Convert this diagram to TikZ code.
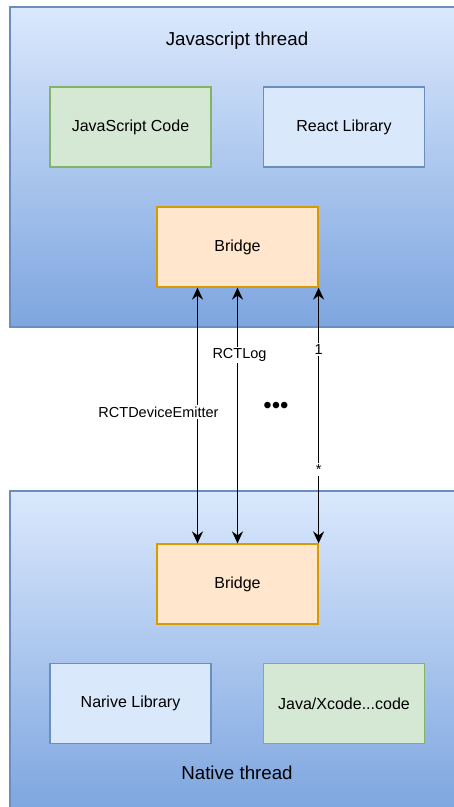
\documentclass[tikz,border=0pt]{standalone}
\usepackage{fontspec}
\setmainfont{Liberation Sans}
\usetikzlibrary{arrows.meta}
\definecolor{laneTop}{HTML}{DAE8FC}
\definecolor{laneBot}{HTML}{7EA6E0}
\definecolor{laneLine}{HTML}{6C8EBF}
\definecolor{blueFill}{HTML}{DAE8FC}
\definecolor{greenFill}{HTML}{D5E8D4}
\definecolor{greenLine}{HTML}{82B366}
\definecolor{orangeFill}{HTML}{FFE6CC}
\definecolor{orangeLine}{HTML}{D79B00}
\tikzset{
  box/.style={minimum width=161pt, minimum height=80pt, inner sep=0pt, line width=1.2pt,
    font=\fontsize{16}{19}\selectfont},
  bluebox/.style={box, draw=laneLine, fill=blueFill},
  greenbox/.style={box, draw=greenLine, fill=greenFill},
  bridgebox/.style={box, draw=orangeLine, fill=orangeFill},
  title/.style={font=\fontsize{18.7}{22}\selectfont},
  chan/.style={draw=black, line width=1.5pt, >={Stealth[length=12pt,width=11pt,inset=4pt]}, <->},
  tag/.style={fill=white, inner sep=1.5pt, font=\fontsize{14.5}{17}\selectfont}
}
% vertical gradient band from laneTop to laneBot, built from thin strips
\newcommand{\gradband}[3]{% x-left, y-top, y-bottom
  \pgfmathsetmacro{\bandstep}{(#3-#2)/80}
  \foreach \i in {0,...,79}{
    \pgfmathsetmacro{\mix}{100-\i*1.2658}
    \pgfmathsetmacro{\ya}{#2+\i*\bandstep}
    \pgfmathsetmacro{\yb}{\ya+\bandstep+0.6}
    \fill[laneTop!\mix!laneBot] (#1,\ya) rectangle (480,\yb);
  }
}
\begin{document}
\begin{tikzpicture}[x=1pt, y=-1pt]
  \useasboundingbox (0,0) rectangle (454,807);
  \begin{scope}
    \clip (0,0) rectangle (454,807);
    % thread lanes
    \gradband{10}{7}{327}
    \draw[draw=laneLine, line width=1.2pt] (10,7) rectangle (480,327);
    \gradband{10}{491}{811}
    \draw[draw=laneLine, line width=1.2pt] (10,491) rectangle (480,811);
  \end{scope}
  \node[title] (jsthread) at (237,41) {Javascript thread};
  \node[title] (nthread) at (237,773) {Native thread};
  % JS side
  \node[greenbox] (jscode) at (130.5,127) {JavaScript Code};
  \node[bluebox] (react) at (344,127) {React Library};
  \node[bridgebox] (bridgeA) at (237.5,247) {Bridge};
  % native side
  \node[bridgebox] (bridgeB) at (237.5,584) {Bridge};
  \node[bluebox] (natlib) at (130.5,703.5) {Narive Library};
  \node[greenbox] (natcode) at (344,703.5) {Java/Xcode...code};
  % bridge channels
  \coordinate (a1) at ([xshift=-40pt]bridgeA.south);
  \coordinate (b1) at ([xshift=-40pt]bridgeB.north);
  \draw[chan] (a1) -- (b1);
  \node[tag] (lblEmit) at (158.5,412) {RCTDeviceEmitter};
  \draw[chan] (bridgeA.south) -- node[tag, pos=0.265, xshift=2pt] (lblLog) {RCTLog} (bridgeB.north);
  \coordinate (a3) at (bridgeA.south east);
  \coordinate (b3) at (bridgeB.north east);
  \draw[chan] (a3) -- node[tag, pos=0.241] (lblOne) {1} node[tag, pos=0.71] (lblMany) {*} (b3);
  \node[font=\fontsize{24}{24}\selectfont] (more) at (276,408) {•••};
\end{tikzpicture}
\end{document}
